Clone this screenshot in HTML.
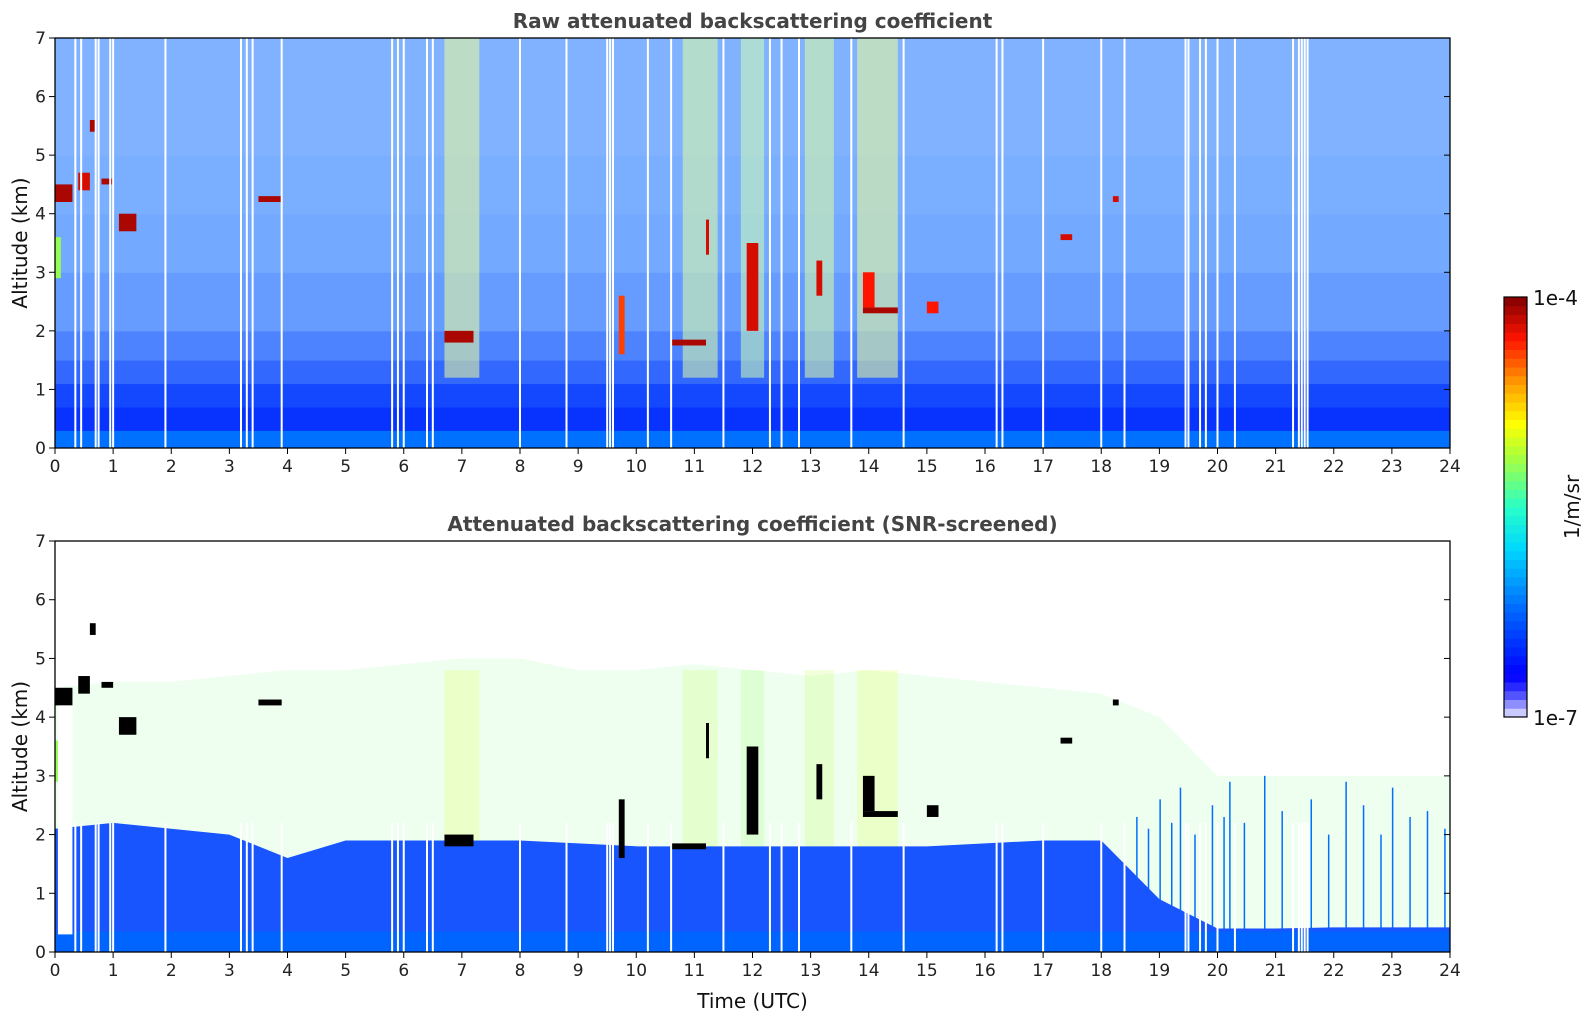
<!DOCTYPE html>
<html><head><meta charset="utf-8"><style>
body{margin:0;background:#fff;width:1595px;height:1020px;overflow:hidden;font-family:"Liberation Sans","DejaVu Sans",sans-serif}
svg text{font-family:"DejaVu Sans","Liberation Sans",sans-serif}
</style></head><body>
<svg id="chart" width="1595" height="1020" xmlns="http://www.w3.org/2000/svg"></svg>
<script>
// ---- data ----
const xTicks=[0,1,2,3,4,5,6,7,8,9,10,11,12,13,14,15,16,17,18,19,20,21,22,23,24];
const yTicks=[0,1,2,3,4,5,6,7];
// raw panel: altitude bins [z0,z1], log10 backscatter, coverage (fraction of non-empty pixels)
const rawBinsZ=[[0,0.3],[0.3,0.7],[0.7,1.1],[1.1,1.5],[1.5,2],[2,3],[3,4],[4,5],[5,7]];
const rawLogBeta=[-6.2,-6.5,-6.45,-6.4,-6.35,-6.3,-6.25,-6.25,-6.25];
const rawCoverage=[1,0.97,0.92,0.8,0.7,0.6,0.55,0.52,0.5];
// aerosol/cloud features: [t0,t1,z0,z1,log10beta]
const clouds=[[0,0.3,4.2,4.5,-4.1],[0.4,0.6,4.4,4.7,-4.2],[0.6,0.7,5.4,5.6,-4.1],[0.8,1.0,4.5,4.6,-4.1],[1.1,1.4,3.7,4.0,-4.1],[3.5,3.9,4.2,4.3,-4.1],[0.0,0.1,2.9,3.6,-5.2],[6.7,7.2,1.8,2.0,-4.1],[10.6,11.2,1.75,1.85,-4.1],[11.2,11.25,3.3,3.9,-4.2],[11.9,12.1,2.0,3.5,-4.2],[13.1,13.2,2.6,3.2,-4.2],[13.9,14.5,2.3,2.4,-4.1],[13.9,14.1,2.4,3.0,-4.3],[15.0,15.2,2.3,2.5,-4.3],[17.3,17.5,3.55,3.65,-4.2],[18.2,18.3,4.2,4.3,-4.2],[9.7,9.8,1.6,2.6,-4.4]];
// enhanced signal columns: [t0,t1,log10beta]
const bands=[[6.7,7.3,-5.0],[10.8,11.4,-5.1],[11.8,12.2,-5.2],[12.9,13.4,-5.1],[13.8,14.5,-5.0]];
// missing profiles (times, h)
const gaps=[0.35,0.45,0.7,0.75,0.95,1.0,1.9,3.2,3.3,3.4,3.9,5.8,5.9,6.0,6.4,6.5,8.0,8.8,9.5,9.55,9.6,10.2,10.6,11.5,12.3,12.5,12.8,13.7,14.6,16.2,16.3,17.0,18.0,18.4,19.45,19.5,19.7,19.8,20.0,20.3,21.3,21.4,21.45,21.5,21.55];
// screened panel: hourly top of dense blue layer & top of sparse green layer (km)
const hours=[0,1,2,3,4,5,6,7,8,9,10,11,12,13,14,15,16,17,18,19,20,21,22,23,24];
const blueTop=[2.1,2.2,2.1,2.0,1.6,1.9,1.9,1.9,1.9,1.85,1.8,1.8,1.8,1.8,1.8,1.8,1.85,1.9,1.9,0.9,0.4,0.4,0.42,0.42,0.42];
const greenTop=[4.5,4.6,4.6,4.7,4.8,4.8,4.9,5.0,5.0,4.8,4.8,4.9,4.8,4.7,4.8,4.7,4.6,4.5,4.4,4.0,3.0,3.0,3.0,3.0,3.0];
const surfaceTop=0.35;
// sparse surviving profiles after 18 UTC: [t, top km]
const lateLines=[[18.6,2.3],[18.8,2.1],[19.0,2.6],[19.2,2.2],[19.35,2.8],[19.6,2.0],[19.9,2.5],[20.1,2.3],[20.2,2.9],[20.45,2.2],[20.8,3.0],[21.1,2.4],[21.6,2.6],[21.9,2.0],[22.2,2.9],[22.5,2.5],[22.8,2.0],[23.0,2.8],[23.3,2.3],[23.6,2.4],[23.9,2.1]];
// ---- drawing ----
const svg=document.getElementById('chart');const NS='http://www.w3.org/2000/svg';
const L=55,R=1450;
const panels=[{top:38,bot:448,name:'raw'},{top:541,bot:952,name:'screened'}];
const xs=t=>L+t*(R-L)/24;
function ys(p,z){return p.bot-z*(p.bot-p.top)/7;}
function mk(tag,a,parent){const e=document.createElementNS(NS,tag);for(const k in a)e.setAttribute(k,a[k]);(parent||svg).appendChild(e);return e;}
const stops=[[0,[232,232,255]],[0.06,[60,60,255]],[0.1,[0,0,255]],[0.25,[0,100,255]],[0.4,[0,215,255]],[0.5,[40,255,200]],[0.62,[170,255,60]],[0.7,[255,255,0]],[0.8,[255,150,0]],[0.9,[255,20,0]],[1,[128,0,0]]];
function cmap(v){let f=Math.max(0,Math.min(1,(v+7)/3));for(let i=1;i<stops.length;i++){if(f<=stops[i][0]){const a=stops[i-1],b=stops[i];const u=(f-a[0])/(b[0]-a[0]);return a[1].map((c,j)=>c+(b[1][j]-c)*u);}}return stops[stops.length-1][1];}
function col(v,cov){const c=cmap(v);return 'rgb('+c.map(x=>Math.round(x*cov+255*(1-cov))).join(',')+')';}
function rgb(v){return 'rgb('+cmap(v).map(Math.round).join(',')+')';}

// Panel 1
const p1=panels[0];
const g1=mk('g',{});
rawBinsZ.forEach((b,i)=>{const r=mk('rect',{x:L,y:ys(p1,b[1]),width:R-L,height:ys(p1,b[0])-ys(p1,b[1])+0.5,fill:col(rawLogBeta[i],rawCoverage[i])},g1);});
bands.forEach(b=>{const r=mk('rect',{x:xs(b[0]),y:ys(p1,7),width:xs(b[1])-xs(b[0]),height:ys(p1,1.2)-ys(p1,7),fill:col(b[2],0.45),opacity:0.55},g1);});
clouds.forEach(c=>{const r=mk('rect',{x:xs(c[0]),y:ys(p1,c[3]),width:Math.max(3,xs(c[1])-xs(c[0])),height:ys(p1,c[2])-ys(p1,c[3]),fill:rgb(c[4])},g1);});
gaps.forEach(t=>{const r=mk('rect',{x:xs(t)-1,y:p1.top,width:2,height:p1.bot-p1.top,fill:'#fff'},g1);});

// Panel 2
const p2=panels[1];
const g2=mk('g',{});
function area(lo,hi){let d='M'+xs(hours[0])+','+ys(p2,hi[0]);hours.forEach((h,i)=>{d+=' L'+xs(h)+','+ys(p2,hi[i]);});for(let i=hours.length-1;i>=0;i--)d+=' L'+xs(hours[i])+','+ys(p2,lo[i]);return d+'Z';}
const surf=hours.map(()=>surfaceTop);
const ga=mk('path',{d:area(blueTop,greenTop),fill:col(-5.3,0.12)},g2);
lateLines.forEach(l=>{const r=mk('rect',{x:xs(l[0]),y:ys(p2,l[1]),width:1.5,height:ys(p2,surfaceTop)-ys(p2,l[1]),fill:rgb(-6.2)},g2);});
bands.forEach(b=>{const r=mk('rect',{x:xs(b[0]),y:ys(p2,4.8),width:xs(b[1])-xs(b[0]),height:ys(p2,0.9)-ys(p2,4.8),fill:rgb(b[2]),opacity:0.18},g2);});
const ba=mk('path',{d:area(surf,blueTop),fill:col(-6.4,0.9)},g2);
const sr=mk('rect',{x:L,y:ys(p2,surfaceTop),width:R-L,height:ys(p2,0)-ys(p2,surfaceTop),fill:rgb(-6.25)},g2);
clouds.forEach(c=>{const r=mk('rect',{x:xs(c[0]),y:ys(p2,c[3]),width:Math.max(3,xs(c[1])-xs(c[0])),height:ys(p2,c[2])-ys(p2,c[3]),fill:c[4]>-4.5?'#000':rgb(c[4])},g2);});
gaps.forEach(t=>{const r=mk('rect',{x:xs(t)-1,y:ys(p2,2.2),width:2,height:ys(p2,0)-ys(p2,2.2),fill:'#fff'},g2);});
const lw=mk('rect',{x:xs(0.05),y:ys(p2,4.2),width:xs(0.3)-xs(0.05),height:ys(p2,0.3)-ys(p2,4.2),fill:'#fff'},g2);

// axes
const titles=['Raw attenuated backscattering coefficient','Attenuated backscattering coefficient (SNR-screened)'];
panels.forEach((p,pi)=>{
 const fr=mk('rect',{x:L,y:p.top,width:R-L,height:p.bot-p.top,fill:'none',stroke:'#000','stroke-width':1.3});
 xTicks.forEach(t=>{mk('line',{x1:xs(t),x2:xs(t),y1:p.bot,y2:p.bot+6,stroke:'#000'});const tx=mk('text',{x:xs(t),y:p.bot+24,'font-size':17,'text-anchor':'middle',fill:'#222'});tx.textContent=t;});
 yTicks.forEach(z=>{mk('line',{x1:L-6,x2:L,y1:ys(p,z),y2:ys(p,z),stroke:'#000'});mk('line',{x1:R-6,x2:R,y1:ys(p,z),y2:ys(p,z),stroke:'#000'});const tx=mk('text',{x:L-9,y:ys(p,z)+6,'font-size':17,'text-anchor':'end',fill:'#222'});tx.textContent=z;});
 const yt=mk('text',{x:0,y:0,'font-size':20,'text-anchor':'middle',fill:'#111',transform:'translate(27,'+(p.top+p.bot)/2+') rotate(-90)'});yt.textContent='Altitude (km)';
 const tt=mk('text',{x:(L+R)/2,y:p.top-10,'font-size':20,'font-weight':'bold','text-anchor':'middle',fill:'#444'});tt.textContent=titles[pi];
});
const xt=mk('text',{x:(L+R)/2,y:1008,'font-size':20,'text-anchor':'middle',fill:'#111'});xt.textContent='Time (UTC)';

// colorbar
const cb=mk('g',{});
const CT=297,CB=717,CX=1504,CW=23,N=48;
for(let i=0;i<N;i++){const v=-7+3*(i+0.5)/N;mk('rect',{x:CX,y:CB-(i+1)*(CB-CT)/N,width:CW,height:(CB-CT)/N+0.5,fill:rgb(v)},cb);}
mk('rect',{x:CX,y:CT,width:CW,height:CB-CT,fill:'none',stroke:'#000','stroke-width':1.2},cb);
const c1=mk('text',{x:1533,y:CT+8,'font-size':20,fill:'#111'},cb);c1.textContent='1e-4';
const c2=mk('text',{x:1533,y:CB+8,'font-size':20,fill:'#111'},cb);c2.textContent='1e-7';
const cu=mk('text',{x:0,y:0,'font-size':20,'text-anchor':'middle',fill:'#111',transform:'translate(1579,507) rotate(-90)'},cb);cu.textContent='1/m/sr';
</script>
</body></html>
